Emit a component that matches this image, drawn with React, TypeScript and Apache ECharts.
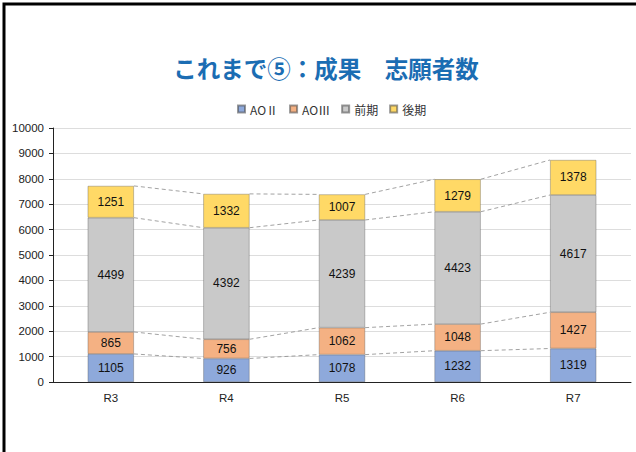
import React, { useEffect, useRef } from "react";
import * as echarts from "echarts";

const categories = ["R3", "R4", "R5", "R6", "R7"];
const seriesNames = ["AOⅡ", "AOⅢ", "前期", "後期"];
const aoII = [1105, 926, 1078, 1232, 1319];
const aoIII = [865, 756, 1062, 1048, 1427];
const zenki = [4499, 4392, 4239, 4423, 4617];
const kouki = [1251, 1332, 1007, 1279, 1378];
const yTicks = { min: 0, max: 10000, interval: 1000 };
const colors = ["#8EA9DB", "#F4B183", "#C9C9C9", "#FFD966"];

export default function App() {
  const ref = useRef<HTMLDivElement>(null);
  useEffect(() => {
    if (!ref.current) return;
    const chart = echarts.init(ref.current, undefined, { renderer: "svg" });
    const all = [aoII, aoIII, zenki, kouki];
    const cum: number[][] = [];
    all.forEach((arr, s) => {
      cum.push(arr.map((v, i) => v + (s > 0 ? cum[s - 1][i] : 0)));
    });
    const lineData: number[][] = [];
    for (let s = 0; s < 4; s++) {
      for (let i = 0; i < categories.length - 1; i++) {
        lineData.push([i, cum[s][i], cum[s][i + 1]]);
      }
    }
    const barSeries = all.map((arr, s) => ({
      name: seriesNames[s],
      type: "bar",
      stack: "total",
      barWidth: "40%",
      data: arr,
      itemStyle: {
        color: colors[s],
        borderColor: "rgba(70,70,70,0.55)",
        borderWidth: 0.6,
      },
      label: {
        show: true,
        position: "inside",
        color: "#111",
        fontSize: 12,
        fontFamily: "Liberation Sans, Arial, sans-serif",
      },
      z: 3,
    }));
    chart.setOption({
      animation: false,
      backgroundColor: "#fff",
      title: {
        text: "これまで⑤：成果　志願者数",
        left: 321,
        textAlign: "center",
        top: 51,
        textStyle: {
          color: "#1B6DB3",
          fontSize: 23.5,
          fontWeight: "bold",
          fontFamily: "Noto Sans CJK JP, sans-serif",
        },
      },
      legend: {
        data: seriesNames,
        left: 232,
        top: 98,
        textStyle: {
          fontSize: 12,
          color: "#333",
          fontFamily: "Noto Sans CJK JP, sans-serif",
        },
        icon: "rect",
        itemWidth: 7,
        itemHeight: 7,
        itemGap: 11,
      },
      graphic: [
        {
          type: "rect",
          shape: { x: 4, y: 4, width: 700, height: 600 },
          style: { fill: "none", stroke: "#000", lineWidth: 3 },
          z: 100,
        },
      ],
      grid: { left: 53, right: 5, top: 128, bottom: 70 },
      xAxis: {
        type: "category",
        data: categories,
        axisLine: { lineStyle: { color: "#222", width: 1 } },
        axisTick: { show: false },
        axisLabel: {
          color: "#222",
          fontSize: 11.5,
          margin: 10,
          fontFamily: "Liberation Sans, Arial, sans-serif",
        },
      },
      yAxis: {
        type: "value",
        min: yTicks.min,
        max: yTicks.max,
        interval: yTicks.interval,
        axisLine: { show: true, lineStyle: { color: "#222", width: 1 } },
        axisTick: { show: true, length: 4, lineStyle: { color: "#222" } },
        axisLabel: {
          color: "#222",
          fontSize: 11.5,
          margin: 9,
          fontFamily: "Liberation Sans, Arial, sans-serif",
          formatter: (v: number) => String(v),
        },
        splitLine: { lineStyle: { color: "#DDDDDD", width: 1 } },
      },
      series: [
        ...barSeries,
        {
          type: "custom",
          name: "lines",
          data: lineData,
          encode: { x: 0, y: [1, 2] },
          z: 2,
          silent: true,
          renderItem: (params: any, api: any) => {
            const i = api.value(0);
            const p1 = api.coord([i, api.value(1)]);
            const p2 = api.coord([i + 1, api.value(2)]);
            const band = api.size([1, 0])[0];
            const half = band * 0.2;
            return {
              type: "line",
              shape: { x1: p1[0] + half, y1: p1[1], x2: p2[0] - half, y2: p2[1] },
              style: { stroke: "#8a8a8a", lineWidth: 0.8, lineDash: [4, 3] },
            };
          },
        },
      ],
    });
    return () => chart.dispose();
  }, []);
  return (
    <div
      ref={ref}
      style={{ position: "fixed", left: 0, top: 0, width: 636, height: 452 }}
    />
  );
}
